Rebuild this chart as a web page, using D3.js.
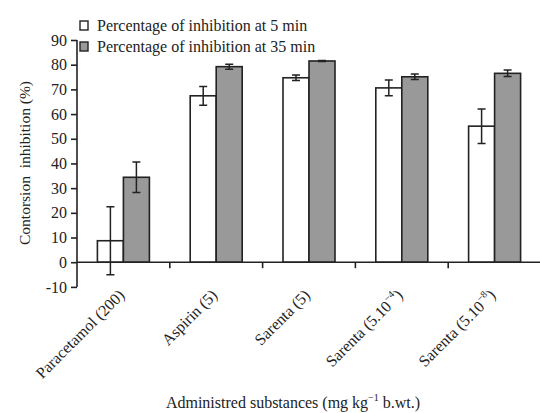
<!DOCTYPE html>
<html>
<head>
<meta charset="utf-8">
<script src="https://cdn.jsdelivr.net/npm/d3@7"></script>
<style>
  body { margin: 0; background: #fff; }
  text { font-family: "Liberation Serif", "Times New Roman", serif; fill: #222; }
</style>
</head>
<body>
<script>
const width = 540,
  height = 413;

// data
const substances = ['Paracetamol (200)', 'Aspirin (5)', 'Sarenta (5)', 'Sarenta (5.10-4)', 'Sarenta (5.10-8)'];
const labelMain = ['Paracetamol (200)', 'Aspirin (5)', 'Sarenta (5)', 'Sarenta (5.10', 'Sarenta (5.10'];
const labelSup = ['', '', '', '\u22124', '\u22128'];
const series = ['Percentage of inhibition at 5 min', 'Percentage of inhibition at 35 min'];
const min5 = [8.7, 67.4, 74.7, 70.6, 55.1];
const min5Err = [13.8, 3.8, 1.1, 3.2, 7.0];
const min35 = [34.4, 79.2, 81.5, 75.1, 76.5];
const min35Err = [6.2, 1.0, 0.2, 1.1, 1.3];
const yTicks = [-10, 0, 10, 20, 30, 40, 50, 60, 70, 80, 90];

const colors = ['#ffffff', '#999999'];

const x = d3.scaleBand()
  .domain(substances)
  .range([77, 541])
  .paddingInner(0)
  .paddingOuter(0);

const y = d3.scaleLinear()
  .domain([-10, 90])
  .range([286.9, 40]);

const barW = 26;

const svg = d3.select('body').append('svg')
  .attr('width', width)
  .attr('height', height);

// y axis
const yAxis = svg.append('g')
  .attr('transform', `translate(${x.range()[0]},0)`)
  .call(d3.axisLeft(y).tickValues(yTicks).tickSize(6).tickPadding(4).tickFormat(d => String(d)));
yAxis.selectAll('text').attr('font-size', 16).attr('fill', '#222');
yAxis.selectAll('line').attr('stroke', '#222').attr('stroke-width', 1.6);
yAxis.select('.domain').attr('stroke', '#222').attr('stroke-width', 1.6)
  .attr('d', `M0,${y(-10)}V${y(90)}`);

// bars
const groups = svg.append('g').selectAll('g')
  .data(substances)
  .enter().append('g')
  .attr('transform', d => `translate(${x(d) + x.bandwidth() / 2},0)`);

const rows = substances.map((s, i) => [
  { v: min5[i], e: min5Err[i], k: 0 },
  { v: min35[i], e: min35Err[i], k: 1 }
]);

groups.each(function (s, i) {
  const g = d3.select(this);
  rows[i].forEach(r => {
    const bx = r.k === 0 ? -barW : 0;
    g.append('rect')
      .attr('x', bx)
      .attr('y', y(Math.max(0, r.v)))
      .attr('width', barW)
      .attr('height', Math.abs(y(r.v) - y(0)))
      .attr('fill', colors[r.k])
      .attr('stroke', '#222')
      .attr('stroke-width', 1.6);
    const cx = bx + barW / 2;
    g.append('path')
      .attr('d', `M${cx},${y(r.v + r.e)}V${y(r.v - r.e)}M${cx - 4},${y(r.v + r.e)}H${cx + 4}M${cx - 4},${y(r.v - r.e)}H${cx + 4}`)
      .attr('stroke', '#222')
      .attr('stroke-width', 1.5)
      .attr('fill', 'none');
  });
});

// x axis at zero
const xAxis = svg.append('g')
  .attr('transform', `translate(0,${y(0)})`);
xAxis.append('line')
  .attr('x1', x.range()[0]).attr('x2', x.range()[1])
  .attr('stroke', '#222').attr('stroke-width', 1.6);
xAxis.selectAll('.tick')
  .data(substances.slice(1))
  .enter().append('line')
  .attr('x1', d => x(d)).attr('x2', d => x(d))
  .attr('y1', 0).attr('y2', 6)
  .attr('stroke', '#222').attr('stroke-width', 1.6);

// rotated category labels
const labels = svg.append('g').selectAll('text')
  .data(substances)
  .enter().append('text')
  .attr('transform', d => `translate(${x(d) + x.bandwidth() / 2 + 2},${y(0) + 34}) rotate(-45)`)
  .attr('text-anchor', 'end')
  .attr('font-size', 16);
labels.append('tspan').text((d, i) => labelMain[i]);
labels.append('tspan')
  .attr('font-size', 10)
  .attr('dy', -7)
  .text((d, i) => labelSup[i]);
labels.append('tspan')
  .attr('dy', (d, i) => labelSup[i] ? 7 : 0)
  .text((d, i) => labelSup[i] ? ')' : '');

// axis titles
svg.append('text')
  .attr('transform', `translate(30,163) rotate(-90)`)
  .attr('text-anchor', 'middle')
  .attr('font-size', 15.5)
  .style('white-space', 'pre')
  .text('Contorsion  inhibition (%)');

const xt = svg.append('text')
  .attr('x', 293)
  .attr('y', 408)
  .attr('text-anchor', 'middle')
  .attr('font-size', 16);
xt.append('tspan').text('Administred substances (mg kg');
xt.append('tspan').attr('font-size', 10).attr('dy', -7).text('\u22121');
xt.append('tspan').attr('dy', 7).text(' b.wt.)');

// legend
const legend = svg.append('g').selectAll('g')
  .data(series)
  .enter().append('g')
  .attr('transform', (d, i) => `translate(80,${21 + i * 21})`);
legend.append('rect')
  .attr('width', 8).attr('height', 9)
  .attr('fill', (d, i) => colors[i])
  .attr('stroke', '#222').attr('stroke-width', 1.4);
legend.append('text')
  .attr('x', 17).attr('y', 9.5)
  .attr('font-size', 16)
  .text(d => d);
</script>
</body>
</html>
